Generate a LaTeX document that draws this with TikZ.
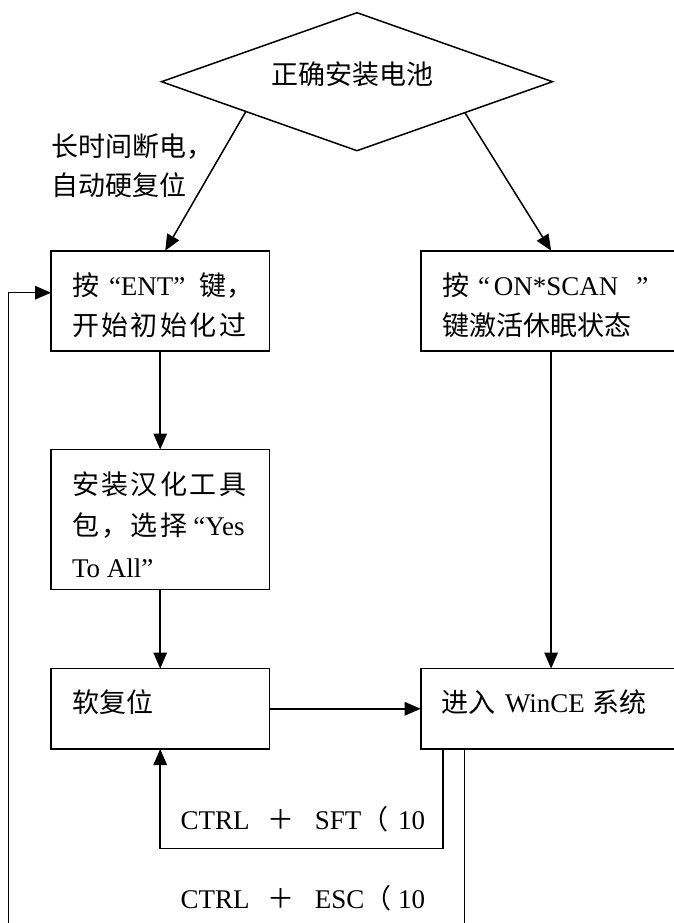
\documentclass[tikz,border=0pt]{standalone}
\usepackage{fontspec}
\setmainfont{Liberation Serif}
\newfontfamily\cjk{Noto Sans CJK SC}
\newfontfamily\cjkw[LetterSpace=9]{Noto Sans CJK SC}
\usetikzlibrary{shapes.geometric,arrows.meta}
\begin{document}
\begin{tikzpicture}[x=1pt,y=1pt,
  every node/.style={font=\fontsize{27}{40}\selectfont, inner sep=0pt, outer sep=0pt},
  boxnode/.style={draw, line width=1.6pt, minimum height=#1},
  wbox/.style={boxnode=#1, minimum width=218.3pt},
  rbox/.style={boxnode=#1, minimum width=260.8pt},
  txt/.style={anchor=base west},
  conn/.style={line width=1.5pt},
  arr/.style={conn, -{Triangle[length=16pt,width=13.5pt]}}
]
\useasboundingbox (0,0) rectangle (674,-923);

% diamond
\node[diamond, draw, line width=1.5pt, minimum width=391pt, minimum height=138pt] (d) at (357,-81.7) {};
\node[anchor=base] (dt) at (352.8,-85) {\cjk 正确安装电池};

% boxes
\node[wbox=100pt] (b1) at (160.2,-300.7) {};
\node[rbox=100pt] (b2) at (551.1,-300.7) {};
\node[wbox=140pt] (b3) at (160.2,-519.5) {};
\node[wbox=80.4pt] (b4) at (160.2,-708.8) {};
\node[rbox=80.4pt] (b5) at (551.1,-708.8) {};

% texts
\node[txt] (l1) at (51,-157) {\cjk 长时间断电，};
\node[txt] (l2) at (51,-195) {\cjk 自动硬复位};

\node[txt] (t1a) at (72,-295) {{\cjk 按}\hspace{10pt}“ENT”\hspace{14pt}{\cjk 键，}};
\node[txt] (t1b) at (72,-335) {\cjkw 开始初始化过};

\node[txt] (t2a) at (442,-295) {{\cjk 按}\hspace{9pt}“\hspace{4pt}ON*SCAN\hspace{18pt}”};
\node[txt] (t2b) at (442,-335) {\cjk 键激活休眠状态};

\node[txt] (t3a) at (72,-494) {\cjkw 安装汉化工具};
\node[txt] (t3b) at (72,-535.5) {{\cjkw 包，选择}\hspace{6pt}“Yes};
\node[txt] (t3c) at (72,-577) {To All”};

\node[txt] (t4) at (72,-712) {\cjk 软复位};
\node[txt] (t5) at (441,-712) {{\cjk 进入}\hspace{10pt}WinCE\hspace{8pt}{\cjk 系统}};

\node[txt] (c1) at (180.6,-829.5) {CTRL\hspace{17.6pt}{\cjk ＋}\hspace{20.7pt}SFT{\cjk （}\hspace{9.7pt}10};
\node[txt] (c2) at (180.6,-908.6) {CTRL\hspace{17.6pt}{\cjk ＋}\hspace{20.7pt}ESC{\cjk （}\hspace{6.7pt}10};

% connectors
\draw[arr] (d.195.8) -- ([xshift=5pt]b1.north);
\draw[arr] (d.344.2) -- (b2.north);
\draw[arr] (b1.south) -- (b3.north);
\draw[arr] (b3.south) -- (b4.north);
\draw[arr] (b4.east) -- (b5.west);
\draw[arr] (b2.south) -- (b5.north);

\coordinate (s0) at ([xshift=22.1pt]b5.south west);
\coordinate (s1) at (442.8,-848.5);
\draw[arr] (s0) -- (s0 |- s1) -- (b4.south |- s1) -- (b4.south);

\coordinate (e0) at ([xshift=43.6pt]b5.south west);
\coordinate (e1) at (464.3,-930);
\draw[conn] (e0) -- (e0 |- e1);

\coordinate (f0) at (8.6,-930);
\coordinate (f1) at (8.6,-292.7);
\draw[arr] (f0) -- (f1) -- (f1 -| b1.west);
\end{tikzpicture}
\end{document}
